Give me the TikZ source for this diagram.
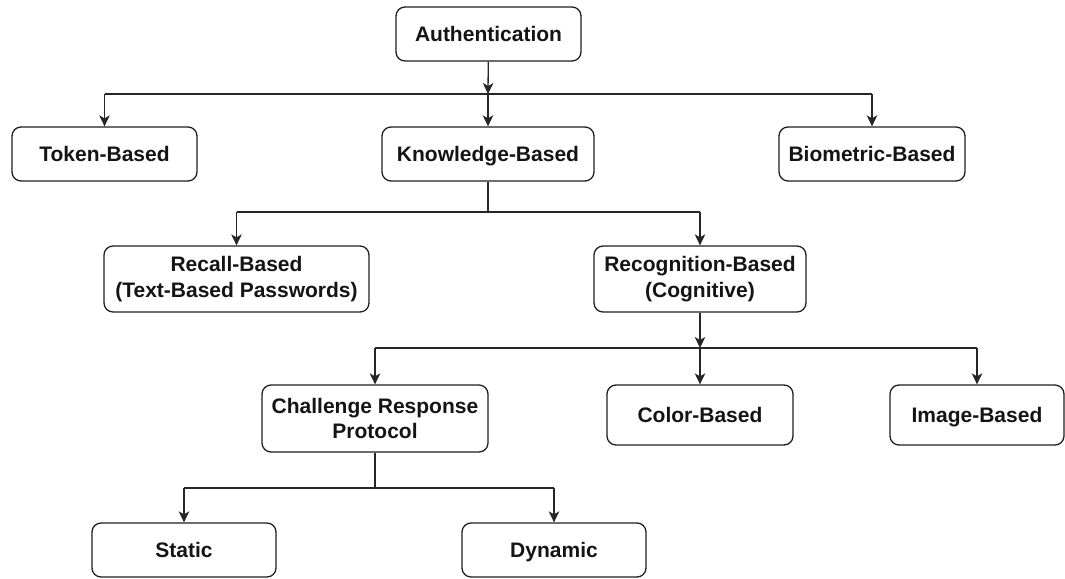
\documentclass[tikz,border=0pt]{standalone}
\usepackage{fontspec}
\setmainfont{Liberation Sans}
\usetikzlibrary{arrows.meta}
\tikzset{
  box/.style={draw=black!88, line width=1.3pt, rounded corners=9pt, align=center,
    inner sep=0pt, text=black!92,
    font=\fontsize{21}{25.5}\selectfont\bfseries},
  oneline/.style={text height=18pt, text depth=3pt},
  wh/.style 2 args={minimum width=#1pt, minimum height=#2pt},
  conn/.style={draw=black!85, line width=1.3pt},
  arr/.style={conn, -{Stealth[length=11pt,width=10.5pt,inset=3pt]}},
  bus/.style={draw=black!85, line width=2.4pt}
}
\begin{document}
\begin{tikzpicture}[x=1pt,y=-1pt]
\useasboundingbox (0,0) rectangle (1065,578);

% boxes
\node[box, oneline, wh={185}{54}] (auth)    at (488.5,34)  {Authentication};
\node[box, oneline, wh={185}{54}] (token)   at (104.5,154) {Token-Based};
\node[box, oneline, wh={212}{54}] (know)    at (488,154)   {Knowledge-Based};
\node[box, oneline, wh={186}{54}] (bio)     at (872,154)   {Biometric-Based};
\node[box, wh={265}{66}] (recall)  at (236.5,279) {Recall-Based\\(Text-Based Passwords)};
\node[box, wh={212}{66}] (recog)   at (700,279)   {Recognition-Based\\(Cognitive)};
\node[box, wh={226}{67}] (chal)    at (375,418.5) {Challenge Response\\Protocol};
\node[box, oneline, wh={186}{60}] (color)   at (700,415)   {Color-Based};
\node[box, oneline, wh={174}{60}] (image)   at (977,415)   {Image-Based};
\node[box, oneline, wh={184}{54}] (static)  at (184,550)   {Static};
\node[box, oneline, wh={184}{54}] (dynamic) at (554,550)   {Dynamic};

% level 1
\coordinate (j1) at (488,94);
\draw[arr] (auth) -- (j1);
\draw[conn] (j1 -| token) -- (j1 -| bio);
\draw[arr] (j1 -| token) -- (token);
\draw[arr] (j1) -- (know);
\draw[arr] (j1 -| bio) -- (bio);

% level 2
\coordinate (j2) at (488,212);
\draw[conn] (know) -- (j2);
\draw[conn] (j2 -| recall) -- (j2 -| recog);
\draw[arr] (j2 -| recall) -- (recall);
\draw[arr] (j2 -| recog) -- (recog);

% level 3
\coordinate (j3) at (700,348);
\draw[arr] (recog) -- (j3);
\draw[bus] (j3 -| chal) -- (j3 -| image);
\draw[arr] (j3 -| chal) -- (chal);
\draw[arr] (j3) -- (color);
\draw[arr] (j3 -| image) -- (image);

% level 4
\coordinate (j4) at (375,488);
\draw[conn] (chal) -- (j4);
\draw[bus] (j4 -| static) -- (j4 -| dynamic);
\draw[arr] (j4 -| static) -- (static);
\draw[arr] (j4 -| dynamic) -- (dynamic);
\end{tikzpicture}
\end{document}
